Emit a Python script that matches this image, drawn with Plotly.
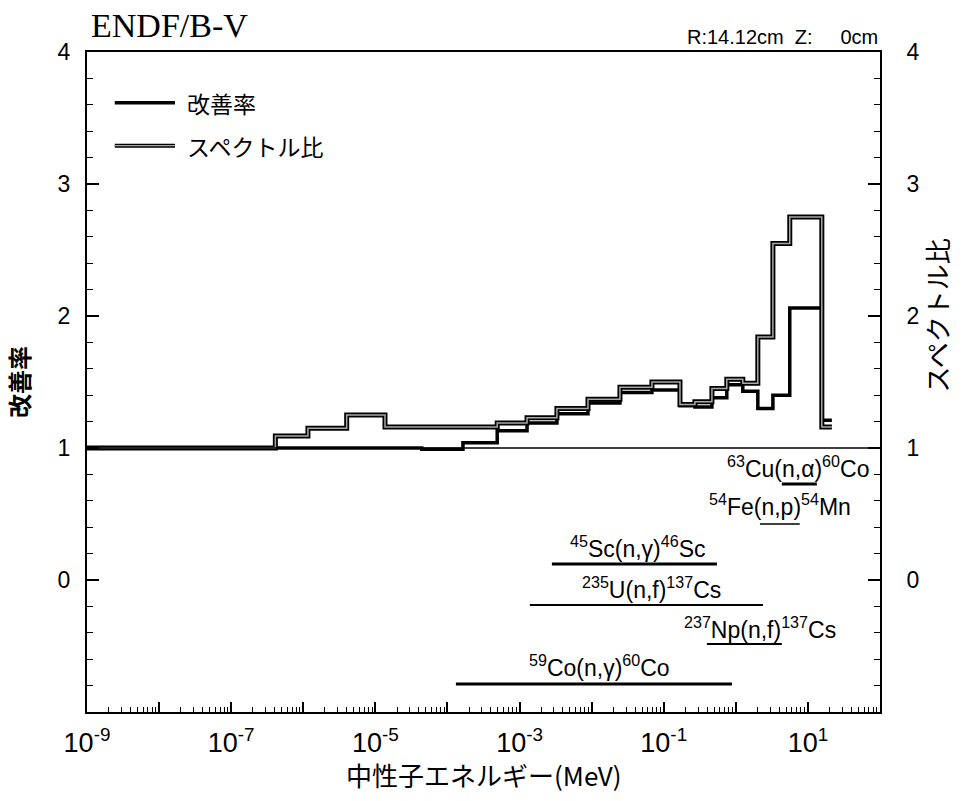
import plotly.graph_objects as go

# ---------------- data ----------------
# group boundaries of the neutron energy (MeV)
energy_edges = [1e-9, 4.1e-7, 1.16e-6, 4.0e-6, 1.36e-5, 4.4e-5, 1.64e-4, 4.9e-4,
                1.27e-3, 3.3e-3, 8.9e-3, 2.47e-2, 6.86e-2, 0.168, 0.271, 0.466,
                0.75, 1.25, 2.02, 3.27, 5.6, 15.6, 21.5]
# 改善率 (left axis)
improvement = [1.00, 1.00, 1.00, 1.00, 1.00, 0.99, 1.04, 1.13, 1.19, 1.26, 1.34,
               1.42, 1.44, 1.32, 1.31, 1.38, 1.48, 1.43, 1.30, 1.40, 2.06, 1.21]
# スペクトル比 (right axis)
spectrum_ratio = [1.00, 1.09, 1.15, 1.25, 1.16, 1.16, 1.16, 1.19, 1.23, 1.30, 1.37,
                  1.46, 1.50, 1.33, 1.35, 1.45, 1.52, 1.49, 1.84, 2.55, 2.75, 1.16]

# dosimetry reactions: response energy range (MeV) and level on the axis
reaction_names = ["<sup>63</sup>Cu(n,α)<sup>60</sup>Co",
                  "<sup>54</sup>Fe(n,p)<sup>54</sup>Mn",
                  "<sup>45</sup>Sc(n,γ)<sup>46</sup>Sc",
                  "<sup>235</sup>U(n,f)<sup>137</sup>Cs",
                  "<sup>237</sup>Np(n,f)<sup>137</sup>Cs",
                  "<sup>59</sup>Co(n,γ)<sup>60</sup>Co"]
reaction_e_low = [4.35, 2.16, 2.81e-3, 1.39e-3, 0.397, 1.31e-4]
reaction_e_high = [13.3, 7.7, 0.547, 2.38, 4.35, 0.883]
reaction_level = [0.727, 0.424, 0.121, -0.189, -0.485, -0.788]

x_tick_exponents = list(range(-9, 3))
y_tick_values = [0, 1, 2, 3, 4]

# ---------------- styling / layout helpers ----------------
label_pos = [(0.861, 0.855), (0.612, 0.565), (-1.358, 0.25), (-1.164, -0.06),
             (0.334, -0.365), (-1.885, -0.655)]
line_widths = [3, 1.5, 3, 2, 2, 3]

SANS = "Liberation Sans, Arial, Noto Sans CJK JP, sans-serif"
JP = "Noto Sans CJK JP, sans-serif"


def step_xy(edges, vals):
    return list(edges), list(vals) + [vals[-1]]


fig = go.Figure()

xs, ys = step_xy(energy_edges, spectrum_ratio)
fig.add_trace(go.Scatter(x=xs, y=ys, mode="lines", yaxis="y2", showlegend=False,
                         line=dict(color="black", width=5, shape="hv"), hoverinfo="skip"))
fig.add_trace(go.Scatter(x=xs, y=ys, mode="lines", yaxis="y2", name="スペクトル比",
                         showlegend=False,
                         line=dict(color="#a8a8a8", width=1.5, shape="hv")))

xi, yi = step_xy(energy_edges, improvement)
fig.add_trace(go.Scatter(x=xi, y=yi, mode="lines", name="改善率", showlegend=False,
                         line=dict(color="black", width=3.5, shape="hv")))

# reaction ranges
for i in range(len(reaction_names)):
    fig.add_trace(go.Scatter(x=[reaction_e_low[i], reaction_e_high[i]],
                             y=[reaction_level[i], reaction_level[i]],
                             mode="lines", showlegend=False, hoverinfo="skip",
                             line=dict(color="black", width=line_widths[i])))
    fig.add_annotation(x=label_pos[i][0], y=label_pos[i][1], xref="x", yref="y",
                       text=reaction_names[i], showarrow=False,
                       font=dict(family=SANS, size=23, color="black"),
                       xanchor="center", yanchor="middle")

# horizontal reference line at 1
fig.add_shape(type="line", xref="x domain", yref="y", x0=0, x1=1, y0=1, y1=1,
              line=dict(color="black", width=1.5))

# manual legend
fig.add_shape(type="line", xref="paper", yref="paper", x0=0.035, x1=0.111,
              y0=0.923, y1=0.923, line=dict(color="black", width=3.5))
fig.add_shape(type="line", xref="paper", yref="paper", x0=0.035, x1=0.111,
              y0=0.858, y1=0.858, line=dict(color="black", width=4))
fig.add_shape(type="line", xref="paper", yref="paper", x0=0.035, x1=0.111,
              y0=0.858, y1=0.858, line=dict(color="#a8a8a8", width=1.2))
fig.add_annotation(xref="paper", yref="paper", x=0.123, y=0.923, text="改善率",
                   showarrow=False, xanchor="left", yanchor="middle",
                   font=dict(family=JP, size=23, color="black"))
fig.add_annotation(xref="paper", yref="paper", x=0.123, y=0.858, text="スペクトル比",
                   showarrow=False, xanchor="left", yanchor="middle",
                   font=dict(family=JP, size=23, color="black"))

# header texts
fig.add_annotation(xref="paper", yref="paper", x=0.002, y=1.04, text="ENDF/B-V",
                   showarrow=False, xanchor="left", yanchor="middle",
                   font=dict(family="Liberation Serif, Times New Roman, serif",
                             size=34, color="black"))
fig.add_annotation(xref="paper", yref="paper", x=1.0, y=1.022,
                   text="R:14.12cm\u00a0\u00a0Z:\u00a0\u00a0\u00a0\u00a0\u00a00cm",
                   showarrow=False, xanchor="right", yanchor="middle",
                   font=dict(family=SANS, size=20, color="black"))

# axis titles
fig.add_annotation(xref="paper", yref="paper", x=-0.087, y=0.5, text="<b>改善率</b>",
                   textangle=-90, showarrow=False, xanchor="center", yanchor="middle",
                   font=dict(family=JP, size=24, color="black"))
fig.add_annotation(xref="paper", yref="paper", x=1.07, y=0.6, text="スペクトル比",
                   textangle=-90, showarrow=False, xanchor="center", yanchor="middle",
                   font=dict(family=JP, size=26, color="black"))
fig.add_annotation(xref="paper", yref="paper", x=0.5, y=-0.095,
                   text="中性子エネルギー(MeV)", showarrow=False,
                   xanchor="center", yanchor="middle",
                   font=dict(family=JP, size=26, color="black"))

x_tickvals = [10.0 ** k for k in x_tick_exponents]
x_ticktext = [f"10<sup>{k}</sup>" if k % 2 != 0 else "" for k in x_tick_exponents]
x_minor = [m * 10.0 ** k for k in x_tick_exponents[:-1] for m in range(2, 10)]

yaxis_common = dict(range=[-1, 4], tickvals=y_tick_values, ticks="inside", ticklen=12,
                    tickwidth=1.5, tickcolor="black", showline=True, linecolor="black",
                    linewidth=2, showgrid=False, zeroline=False,
                    tickfont=dict(family=SANS, size=23, color="black"),
                    minor=dict(dtick=0.2, tick0=0, ticks="inside", ticklen=6,
                               tickwidth=1, tickcolor="black", showgrid=False))

fig.update_layout(
    width=964, height=801,
    margin=dict(l=87, r=84, t=52, b=89),
    paper_bgcolor="white", plot_bgcolor="white",
    showlegend=False,
    xaxis=dict(type="log", range=[-9, 2], tickmode="array", tickvals=x_tickvals,
               ticktext=x_ticktext, ticks="inside", ticklen=10, tickwidth=1.5,
               tickcolor="black", showline=True, linecolor="black", linewidth=2,
               mirror=True, showgrid=False, zeroline=False, ticklabelstandoff=6,
               tickfont=dict(family=SANS, size=27, color="black"),
               minor=dict(tickmode="array", tickvals=x_minor, ticks="inside",
                          ticklen=5, tickwidth=1, tickcolor="black", showgrid=False)),
    yaxis=dict(side="left", ticklabelstandoff=10, **yaxis_common),
    yaxis2=dict(side="right", overlaying="y", ticklabelstandoff=20, **yaxis_common),
)

fig.write_html("out.html")
